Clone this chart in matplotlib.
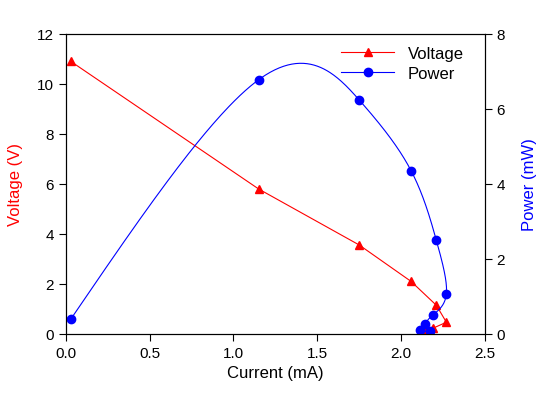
import matplotlib
matplotlib.use("Agg")

import matplotlib.pyplot as plt
import numpy as np

plt.rcParams["font.family"] = ["Liberation Sans", "DejaVu Sans"]

current = [0.03, 1.15, 1.75, 2.06, 2.21, 2.27, 2.19, 2.14, 2.11, 2.17]
voltage = [10.9, 5.8, 3.56, 2.1, 1.15, 0.47, 0.23, 0.126, 0.05, 0.03]
power = [0.4, 6.78, 6.24, 4.35, 2.5, 1.07, 0.51, 0.27, 0.1, 0.07]


def natural_spline(t, y, tt):
    # natural cubic spline evaluated at tt
    t = np.asarray(t, float)
    y = np.asarray(y, float)
    n = len(t)
    h = np.diff(t)
    A = np.zeros((n, n))
    b = np.zeros(n)
    A[0, 0] = 1
    A[-1, -1] = 1
    for i in range(1, n - 1):
        A[i, i - 1] = h[i - 1]
        A[i, i] = 2 * (h[i - 1] + h[i])
        A[i, i + 1] = h[i]
        b[i] = 6 * ((y[i + 1] - y[i]) / h[i] - (y[i] - y[i - 1]) / h[i - 1])
    M = np.linalg.solve(A, b)
    out = np.empty_like(tt)
    for k, x in enumerate(tt):
        i = min(np.searchsorted(t, x, side="right") - 1, n - 2)
        i = max(i, 0)
        dx1 = t[i + 1] - x
        dx0 = x - t[i]
        out[k] = (M[i] * dx1 ** 3 / (6 * h[i]) + M[i + 1] * dx0 ** 3 / (6 * h[i])
                  + (y[i] / h[i] - M[i] * h[i] / 6) * dx1
                  + (y[i + 1] / h[i] - M[i + 1] * h[i] / 6) * dx0)
    return out


fig = plt.figure(figsize=(5.4, 4.02), dpi=100, facecolor="white")
ax = fig.add_axes([0.122, 0.1667, 0.776, 0.7463])
ax2 = ax.twinx()

# parametric spline through power points, uniform parameter
s = np.arange(len(current), dtype=float)
ss = np.linspace(0, s[-1], 800)
sx = natural_spline(s, current, ss)
sy = natural_spline(s, power, ss)

lv, = ax.plot(current, voltage, "-", color="red", linewidth=0.8,
              marker="^", markersize=6)
ax2.plot(sx, sy, "-", color="blue", linewidth=0.8)
ax2.plot(current, power, "o", color="blue", markersize=6)
lp, = ax.plot([], [], "-", color="blue", linewidth=0.8,
              marker="o", markersize=6)

ax.set_xlim(0, 2.5)
ax.set_ylim(0, 12)
ax2.set_ylim(0, 8)
ax.set_xticks(np.arange(0, 2.51, 0.5))
ax.set_yticks(np.arange(0, 12.1, 2))
ax2.set_yticks(np.arange(0, 8.1, 2))

ax.set_xlabel("Current (mA)", fontsize=12)
ax.set_ylabel("Voltage (V)", fontsize=12, color="red", labelpad=10)
ax2.set_ylabel("Power (mW)", fontsize=12, color="blue", labelpad=12)

for a in (ax, ax2):
    a.tick_params(direction="out", labelsize=11, length=5)

ax.legend([lv, lp], ["Voltage", "Power"], loc="upper right",
          frameon=False, fontsize=12, handlelength=3.2,
          bbox_to_anchor=(0.985, 1.01), labelspacing=0.3)

plt.savefig("out.png", dpi=100)
plt.close(fig)
